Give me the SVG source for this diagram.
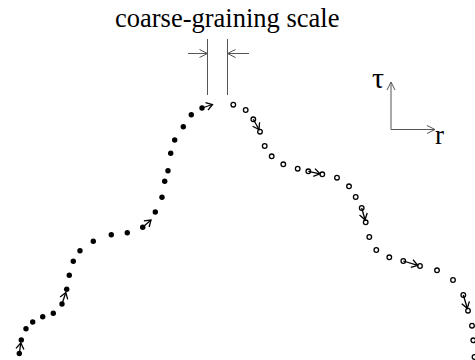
<svg xmlns="http://www.w3.org/2000/svg" width="475" height="360" viewBox="0 0 475 360">
<defs>
<style>
.f{fill:#000}
.o{fill:#fff;stroke:#000;stroke-width:1.3}
.ar{fill:none;stroke:#000;stroke-width:1.3;marker-end:url(#h)}
.g{fill:none;stroke:#555;stroke-width:1}
.ga{fill:none;stroke:#555;stroke-width:1;marker-end:url(#hg)}
.t{font-family:"Liberation Serif","Times New Roman",serif;fill:#000}
</style>
<marker id="h" markerWidth="10" markerHeight="10" refX="8" refY="5" orient="auto" markerUnits="userSpaceOnUse"><path d="M2,1 L8,5 L2,9" fill="none" stroke="#000" stroke-width="1.3"/></marker>
<marker id="hg" markerWidth="12" markerHeight="12" refX="10" refY="6" orient="auto" markerUnits="userSpaceOnUse"><path d="M2,2 L10,6 L2,10" fill="none" stroke="#555" stroke-width="1"/></marker>
</defs>
<rect width="475" height="360" fill="#fff"/>
<g id="scale">
<text class="t" x="115" y="27" font-size="26.5">coarse-graining scale</text>
<line class="g" x1="207.5" y1="39" x2="207.5" y2="95"/>
<line class="g" x1="227.5" y1="39" x2="227.5" y2="95"/>
<line class="ga" x1="188" y1="53.5" x2="207.5" y2="53.5"/>
<line class="ga" x1="249" y1="53.5" x2="227.5" y2="53.5"/>
</g>
<g id="axes">
<line class="ga" x1="391" y1="129.5" x2="391" y2="82"/>
<line class="ga" x1="391" y1="129.5" x2="435" y2="129.5"/>
<text class="t" x="372" y="88" font-size="30">τ</text>
<text class="t" x="435" y="144" font-size="27">r</text>
</g>
<g id="filled-path">
<circle class="f" cx="19.3" cy="353.5" r="2.7"/>
<circle class="f" cx="21.3" cy="340" r="2.7"/>
<circle class="f" cx="26" cy="328.7" r="2.7"/>
<circle class="f" cx="32.7" cy="322" r="2.7"/>
<circle class="f" cx="42.7" cy="316.7" r="2.7"/>
<circle class="f" cx="53.3" cy="313.3" r="2.7"/>
<circle class="f" cx="62" cy="304" r="2.7"/>
<circle class="f" cx="66.7" cy="289.3" r="2.7"/>
<circle class="f" cx="69.3" cy="275.3" r="2.7"/>
<circle class="f" cx="73.3" cy="261.3" r="2.7"/>
<circle class="f" cx="80" cy="250.7" r="2.7"/>
<circle class="f" cx="93.3" cy="241.3" r="2.7"/>
<circle class="f" cx="111.3" cy="234.7" r="2.7"/>
<circle class="f" cx="127.3" cy="232.7" r="2.7"/>
<circle class="f" cx="142.7" cy="227.3" r="2.7"/>
<circle class="f" cx="155.3" cy="212" r="2.7"/>
<circle class="f" cx="162" cy="197.3" r="2.7"/>
<circle class="f" cx="164.7" cy="181.3" r="2.7"/>
<circle class="f" cx="168" cy="170.7" r="2.7"/>
<circle class="f" cx="170.7" cy="153.3" r="2.7"/>
<circle class="f" cx="174.7" cy="140" r="2.7"/>
<circle class="f" cx="183.3" cy="126.7" r="2.7"/>
<circle class="f" cx="191.3" cy="114.7" r="2.7"/>
<circle class="f" cx="202" cy="108" r="2.7"/>
</g>
<g id="open-path">
<circle class="o" cx="233.3" cy="104.7" r="2.3"/>
<circle class="o" cx="245.7" cy="110" r="2.3"/>
<circle class="o" cx="253.3" cy="119.3" r="2.3"/>
<circle class="o" cx="260" cy="131.7" r="2.3"/>
<circle class="o" cx="264.7" cy="146" r="2.3"/>
<circle class="o" cx="271.7" cy="156.3" r="2.3"/>
<circle class="o" cx="283.3" cy="164.3" r="2.3"/>
<circle class="o" cx="297.7" cy="168.7" r="2.3"/>
<circle class="o" cx="308.3" cy="171.3" r="2.3"/>
<circle class="o" cx="322.3" cy="174.3" r="2.3"/>
<circle class="o" cx="337" cy="177.7" r="2.3"/>
<circle class="o" cx="349" cy="186.3" r="2.3"/>
<circle class="o" cx="355.7" cy="197" r="2.3"/>
<circle class="o" cx="361.7" cy="208" r="2.3"/>
<circle class="o" cx="365.7" cy="222.3" r="2.3"/>
<circle class="o" cx="369.3" cy="237" r="2.3"/>
<circle class="o" cx="376.3" cy="250" r="2.3"/>
<circle class="o" cx="389.3" cy="257.3" r="2.3"/>
<circle class="o" cx="403.3" cy="261" r="2.3"/>
<circle class="o" cx="420" cy="266" r="2.3"/>
<circle class="o" cx="437" cy="270.3" r="2.3"/>
<circle class="o" cx="453" cy="280" r="2.3"/>
<circle class="o" cx="463.3" cy="295" r="2.3"/>
<circle class="o" cx="468" cy="310.7" r="2.3"/>
<circle class="o" cx="472" cy="325.7" r="2.3"/>
<circle class="o" cx="473.3" cy="340.3" r="2.3"/>
<circle class="o" cx="474.5" cy="357" r="2.3"/>
</g>
<g id="connectors">
<line class="ar" x1="19.3" y1="353.5" x2="20.8" y2="343"/>
<line class="ar" x1="62" y1="304" x2="65.8" y2="292.5"/>
<line class="ar" x1="142.7" y1="227.3" x2="151" y2="220"/>
<line class="ar" x1="202" y1="108" x2="212.5" y2="104.5"/>
<line class="ar" x1="253.3" y1="119.3" x2="259" y2="129.5"/>
<line class="ar" x1="308.3" y1="171.3" x2="320" y2="173.8"/>
<line class="ar" x1="361.7" y1="208" x2="365" y2="219.8"/>
<line class="ar" x1="403.3" y1="261" x2="417.7" y2="265.3"/>
<line class="ar" x1="463.3" y1="295" x2="467.3" y2="308.3"/>
</g>
</svg>
